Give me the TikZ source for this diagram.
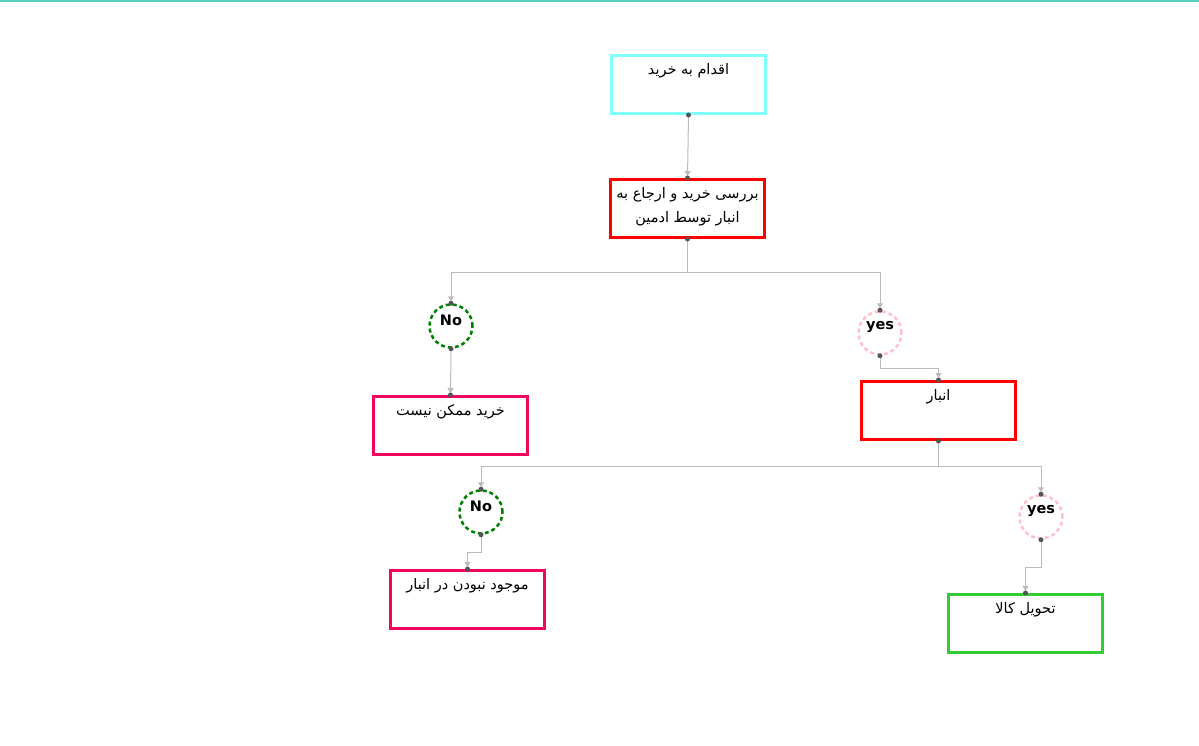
\documentclass[tikz,border=0pt]{standalone}
\usepackage{fontspec}
\TeXXeTstate=1
\newfontfamily\fafont[Script=Arabic]{DejaVu Sans}
\newfontfamily\lafont{DejaVu Sans}
\usetikzlibrary{arrows.meta}
\definecolor{topline}{HTML}{5BCFC0}
\definecolor{cyanbox}{HTML}{80FFFF}
\definecolor{redbox}{HTML}{FF0000}
\definecolor{pinkbox}{HTML}{F2055F}
\definecolor{greenbox}{HTML}{33CC33}
\definecolor{noring}{HTML}{008000}
\definecolor{yesring}{HTML}{FFC0CB}
\definecolor{linkgray}{HTML}{BBBBBB}
\definecolor{dotgray}{HTML}{555555}
\begin{document}
\begin{tikzpicture}[x=1pt, y=-1pt,
    box/.style={draw=#1, line width=3pt, minimum width=154pt, minimum height=58pt, inner sep=0pt},
    ring/.style={circle, draw=#1, line width=2.5pt, dash pattern=on 4pt off 3pt, minimum size=43pt, inner sep=0pt},
    txt/.style={font=\fafont\fontsize{14.5}{24}\selectfont, align=center, anchor=north, inner sep=0pt},
    lab/.style={font=\lafont\bfseries\fontsize{14.5}{16}\selectfont, inner sep=0pt},
    conn/.style={draw=linkgray, line width=1pt, shorten >=2pt, -{Triangle[length=5pt,width=6pt]}},
    dot/.style={fill=dotgray}]
    \useasboundingbox (0,0) rectangle (1199,746);
    \draw[topline, line width=2pt] (0,1) -- (1199,1);

    % boxes
    \node[box=cyanbox] (buy) at (688.5,84.5) {};
    \node[box=redbox] (check) at (687.5,208.5) {};
    \node[box=pinkbox] (nobuy) at (450.5,425.5) {};
    \node[box=redbox] (store) at (938.5,410.5) {};
    \node[box=pinkbox] (nostock) at (467.5,599.5) {};
    \node[box=greenbox] (deliver) at (1025.5,623.5) {};
    \node[txt] (buy-t) at ([yshift=-9pt]buy.north) {\beginR اقدام به خرید\endR};
    \node[txt] (check-t) at ([yshift=-9pt]check.north) {\beginR بررسی خرید و ارجاع به\endR\\\beginR انبار توسط ادمین\endR};
    \node[txt] (nobuy-t) at ([yshift=-9pt]nobuy.north) {\beginR خرید ممکن نیست\endR};
    \node[txt] (store-t) at ([yshift=-9pt]store.north) {\beginR انبار\endR};
    \node[txt] (nostock-t) at ([yshift=-9pt]nostock.north) {\beginR موجود نبودن در انبار\endR};
    \node[txt] (deliver-t) at ([yshift=-9pt]deliver.north) {\beginR تحویل کالا\endR};

    % decisions
    \node[ring=noring] (no1) at (451,326) {};
    \node[ring=yesring] (yes1) at (880,333) {};
    \node[ring=noring] (no2) at (481,512) {};
    \node[ring=yesring] (yes2) at (1041,517) {};
    \node[lab] (no1-t) at ([yshift=6pt]no1.center) {No};
    \node[lab] (yes1-t) at ([yshift=6pt]yes1.center) {yes};
    \node[lab] (no2-t) at ([yshift=6pt]no2.center) {No};
    \node[lab] (yes2-t) at ([yshift=6pt]yes2.center) {yes};

    % links
    \draw[conn] (buy.south) -- (check.north);
    \draw[conn] (check.south) -- ++(0,33) -| (no1.north);
    \draw[conn] (check.south) -- ++(0,33) -| (yes1.north);
    \draw[conn] (no1.south) -- (nobuy.north);
    \draw[conn] (yes1.south) -- ++(0,13) -| (store.north);
    \draw[conn] (store.south) -- ++(0,25) -| (no2.north);
    \draw[conn] (store.south) -- ++(0,25) -| (yes2.north);
    \draw[conn] (no2.south) -- ++(0,18) -| (nostock.north);
    \draw[conn] (yes2.south) -- ++(0,28) -| (deliver.north);

    \foreach \n in {buy, check, store, no1, yes1, no2, yes2}
        \fill[dot] (\n.south) circle (2.5pt);
    \foreach \n in {check, nobuy, store, nostock, deliver, no1, yes1, no2, yes2}
        \fill[dot] (\n.north) circle (2.5pt);
\end{tikzpicture}
\end{document}
